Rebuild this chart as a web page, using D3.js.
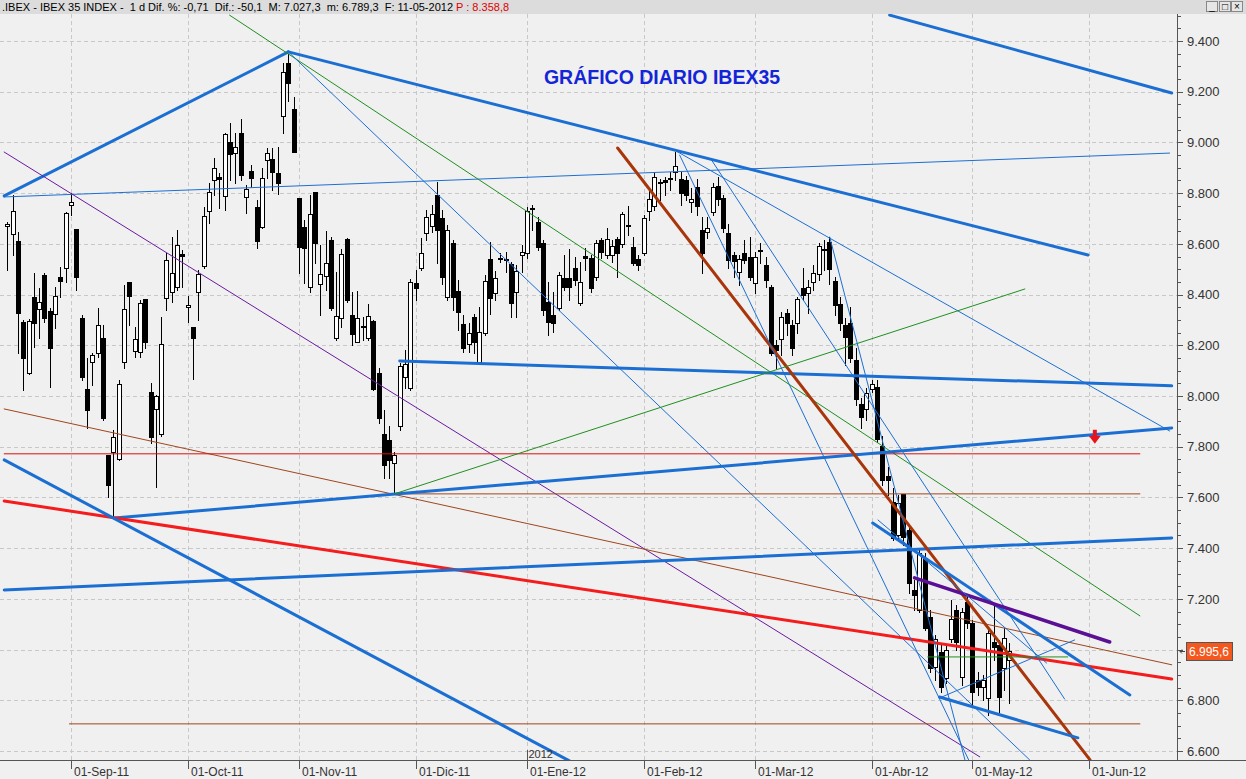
<!DOCTYPE html>
<html><head><meta charset="utf-8">
<script src="https://cdnjs.cloudflare.com/ajax/libs/d3/7.8.5/d3.min.js"></script>
<style>body{margin:0;background:#f0f0f0;overflow:hidden}svg{display:block}</style>
</head><body><svg id="c" width="1246" height="779"></svg>
<script>
// ---------- DATA ----------
const startDate = '2011-08-16';
const holidays = ['2011-12-26', '2012-04-06', '2012-04-09', '2012-05-01'];
const futureDays = 45;
const monthNames = ['Ene','Feb','Mar','Abr','May','Jun','Jul','Ago','Sep','Oct','Nov','Dic'];
const yTicks = [6600, 6800, 7000, 7200, 7400, 7600, 7800, 8000, 8200, 8400, 8600, 8800, 9000, 9200, 9400];
const title = 'GRÁFICO DIARIO IBEX35';
const headerText = '.IBEX - IBEX 35 INDEX -  1 d Dif. %: -0,71  Dif.: -50,1  M: 7.027,3  m: 6.789,3  F: 11-05-2012 ';
const headerPrice = 'P : 8.358,8';
const lastPrice = 6995.6;
const yearLabel = '2012';
const alertMarker = [205.1, 7835];
// [open, high, low, close]
const candles = [
[8671,8686,8497,8678],[8639,8793,8556,8730],[8611,8647,8170,8327],[8292,8300,8024,8150],[8091,8304,8087,8296],
[8391,8485,8193,8288],[8343,8426,8229,8371],[8477,8485,8292,8308],[8335,8347,8036,8189],[8324,8430,8268,8395],
[8469,8509,8391,8454],[8505,8726,8450,8722],[8753,8801,8714,8765],[8659,8659,8418,8469],[8308,8320,8063,8075],
[8028,8150,7874,7945],[8134,8170,8044,8162],[8170,8347,8154,8280],[8229,8280,7906,7913],[7768,7768,7602,7649],
[7779,7866,7519,7839],[7752,8063,7748,8048],[8134,8438,8111,8343],[8450,8450,8280,8395],[8178,8272,8154,8225],
[8174,8379,8154,8367],[8383,8383,8189,8213],[8016,8051,7815,7839],[7949,8004,7641,8000],[7850,8312,7842,8205],
[8387,8564,8339,8536],[8410,8627,8371,8485],[8430,8655,8418,8596],[8560,8576,8430,8552],[8351,8395,8292,8359],
[8272,8272,8067,8229],[8410,8497,8300,8481],[8513,8745,8505,8710],[8730,8840,8682,8805],[8852,8939,8793,8899],
[8864,8880,8742,8856],[8789,9037,8734,9033],[9002,9077,8852,8954],[8958,9037,8840,8982],[9037,9092,8852,8872],
[8785,8832,8722,8816],[8887,8911,8824,8860],[8745,8773,8584,8611],[8667,8899,8663,8860],[8931,8978,8860,8958],
[8935,8978,8812,8883],[8880,8982,8797,8840],[9104,9313,9037,9278],[9313,9349,9163,9234],[9132,9179,8962,8962],
[8781,8781,8485,8588],[8667,8694,8446,8584],[8430,8793,8410,8718],[8805,8805,8525,8603],[8442,8596,8320,8481],
[8473,8651,8418,8525],[8615,8627,8339,8347],[8229,8489,8221,8316],[8308,8580,8272,8560],[8619,8623,8371,8379],
[8320,8410,8201,8245],[8213,8414,8213,8308],[8272,8312,8221,8276],[8229,8363,8221,8316],[8296,8300,8024,8028],
[8091,8111,7894,7913],[7850,7945,7677,7728],[7827,7882,7677,7748],[7736,7779,7614,7768],[7882,8130,7866,8119],
[8075,8182,8032,8126],[8032,8462,8024,8450],[8446,8497,8379,8426],[8505,8623,8497,8564],[8643,8734,8615,8706],
[8671,8753,8647,8718],[8793,8844,8525,8655],[8702,8734,8442,8469],[8391,8674,8379,8655],[8603,8615,8339,8391],
[8414,8458,8260,8331],[8284,8320,8174,8189],[8205,8288,8174,8249],[8312,8324,8170,8213],[8134,8351,8134,8253],
[8249,8477,8241,8454],[8540,8607,8324,8387],[8406,8493,8379,8465],[8544,8564,8529,8546],[8540,8568,8489,8542],
[8521,8529,8312,8367],[8410,8517,8312,8493],[8556,8596,8489,8568],[8564,8745,8544,8730],[8738,8753,8655,8742],
[8686,8706,8576,8588],[8603,8615,8320,8339],[8371,8450,8241,8292],[8320,8410,8253,8288],[8347,8489,8339,8477],
[8465,8556,8418,8430],[8465,8580,8379,8430],[8505,8548,8438,8458],[8367,8529,8359,8450],[8552,8584,8497,8544],
[8544,8556,8410,8426],[8469,8615,8458,8603],[8615,8623,8544,8568],[8556,8663,8544,8619],[8556,8615,8529,8592],
[8619,8627,8469,8564],[8600,8726,8588,8718],[8671,8749,8635,8673],[8588,8627,8517,8525],[8540,8556,8497,8517],
[8564,8714,8556,8702],[8730,8812,8694,8777],[8749,8883,8734,8864],[8840,8856,8773,8842],[8852,8864,8793,8844],
[8856,8883,8812,8860],[8883,8962,8852,8907],[8856,8883,8753,8801],[8852,8868,8773,8793],[8765,8820,8726,8777],
[8824,8856,8714,8749],[8655,8706,8485,8564],[8647,8706,8623,8663],[8726,8840,8714,8824],[8828,8864,8753,8777],
[8781,8793,8647,8663],[8643,8678,8505,8536],[8556,8568,8469,8533],[8489,8556,8438,8540],[8564,8615,8525,8536],
[8548,8627,8458,8469],[8446,8568,8406,8548],[8572,8603,8525,8574],[8517,8548,8430,8458],[8430,8438,8162,8170],
[8201,8221,8111,8182],[8225,8331,8162,8312],[8327,8343,8241,8288],[8280,8300,8162,8189],[8288,8391,8249,8383],
[8426,8505,8379,8399],[8406,8458,8327,8430],[8450,8517,8418,8485],[8481,8603,8458,8592],[8580,8615,8497,8576],
[8607,8627,8442,8501],[8454,8469,8320,8359],[8363,8391,8260,8288],[8280,8308,8122,8233],[8288,8351,8134,8150],
[8142,8189,7965,7988],[7969,7992,7874,7917],[7949,8032,7906,8012],[8028,8063,8016,8048],[8036,8063,7819,7831],
[7803,7843,7649,7669],[7685,7720,7610,7669],[7582,7637,7432,7440],[7452,7610,7432,7578],[7614,7614,7413,7444],
[7472,7492,7223,7263],[7235,7275,7156,7215],[7156,7393,7148,7381],[7361,7381,7077,7085],[7129,7156,6912,6928],
[6932,7058,6880,7042],[6991,7018,6833,6853],[6888,7018,6869,6999],[7042,7196,7030,7121],[7156,7176,6999,7030],
[6892,7164,6861,7148],[7188,7215,7085,7105],[7105,7117,6782,6833],[6880,6912,6821,6853],[6853,6900,6801,6880],
[6809,7085,6742,7066],[7030,7176,6959,7010],[7018,7038,6754,6813],[6928,7085,6841,7045.7],[6960,7027.3,6789.3,6995.6]
];
// trend lines: [startIndex, startValue, endIndex, endValue]
const trendLines = [
[-0.6,8789,53.0,9357],[53.0,9357,203.8,8556],[-0.6,8785,219.2,8958],[166.4,9502,219.6,9195],
[41.9,9502,213.6,7133],[53.0,9357,192.8,6565],[-0.6,8962,183.4,6577],[-0.6,7949,219.6,6940],
[-0.6,7772,213.6,7772],[73.0,7614,213.6,7614],[11.7,6707,213.6,6707],[20.2,7519,219.6,7874],
[-0.6,7586,219.6,6884],[-0.6,7748,106.0,6561],[-0.6,7235,219.6,7440],[74.0,8138,219.6,8040],
[125.8,8970,219.2,7862],[115.1,8978,204.2,6565],[73.0,7614,191.9,8422],[126.8,8950,181.3,6565],
[132.8,8931,199.4,6805],[155.1,8627,180.6,6565],[163.2,7499,211.7,6821],[171.1,7283,207.9,7030],
[173.6,6971,200.0,6971],[175.8,6809,201.3,7038],[175.8,6813,201.9,6652],[164.2,7511,196.0,6947]
];
const trendKinds = [
'blueThick','blueThick','blueThin','blueThick',
'greenThin','blueThin','purpleThin','brownThin',
'redThin','brownThin','brownThin','blueThick',
'redThick','blueThick','blueThick','blueThick',
'blueThin','brownThick','greenThin','blueThin',
'blueThin','blueThin','blueThick','purpleThick',
'greenThin','blueThin','blueThick','blueThin'
];

// ---------- STYLE ----------
const kindStyle = {
  blueThick:{c:'#1c6fd2',w:3}, blueThin:{c:'#1c6fd2',w:1},
  redThick:{c:'#f41c1c',w:3}, redThin:{c:'#d81010',w:1},
  brownThick:{c:'#a8360a',w:3}, brownThin:{c:'#a0451c',w:1},
  purpleThick:{c:'#5a0f94',w:3.5}, purpleThin:{c:'#6a1aa0',w:1},
  greenThin:{c:'#1f8f1f',w:1}
};
const W = 1246, H = 779;
const plot = {left:0, right:1177, top:14, bottom:760};
const font = '"Liberation Sans", Arial, sans-serif';

// trading calendar
const fmt = d3.utcFormat('%Y-%m-%d');
const dates = [];
{
  let d = new Date(startDate + 'T00:00:00Z');
  while (dates.length < candles.length + futureDays) {
    const wd = d.getUTCDay();
    if (wd !== 0 && wd !== 6 && !holidays.includes(fmt(d))) dates.push(new Date(d));
    d = d3.utcDay.offset(d, 1);
  }
}
const x = d3.scaleLinear().domain([12, 204]).range([71, 1089]);
const y = d3.scaleLinear().domain([6600, 9400]).range([751, 41]);

const svg = d3.select('#c');
svg.append('rect').attr('width', W).attr('height', H).attr('fill', '#f0f0f0');
svg.append('defs').append('clipPath').attr('id', 'clip').append('rect')
  .attr('x', plot.left).attr('y', plot.top).attr('width', plot.right - plot.left).attr('height', plot.bottom - plot.top);

// month ticks
const monthTicks = [];
dates.forEach((d, i) => {
  if (i > 0 && d.getUTCMonth() !== dates[i - 1].getUTCMonth()) {
    const px = x(i);
    if (px < plot.right - 10) monthTicks.push({i, label: '01-' + monthNames[d.getUTCMonth()] + '-' + String(d.getUTCFullYear()).slice(2), year: d.getUTCMonth() === 0 ? d.getUTCFullYear() : null});
  }
});

// grid
const grid = svg.append('g').attr('stroke', '#c8c8c8').attr('stroke-width', 1).attr('stroke-dasharray', '4,3');
grid.selectAll('line.h').data(yTicks).join('line')
  .attr('x1', plot.left).attr('x2', plot.right)
  .attr('y1', d => Math.round(y(d)) + 0.5).attr('y2', d => Math.round(y(d)) + 0.5);
grid.selectAll('line.v').data(monthTicks).join('line')
  .attr('y1', plot.top).attr('y2', plot.bottom)
  .attr('x1', d => Math.round(x(d.i)) + 0.5).attr('x2', d => Math.round(x(d.i)) + 0.5);

// candles
const cg = svg.append('g').attr('clip-path', 'url(#clip)');
const cs = cg.selectAll('g').data(candles).join('g');
cs.append('line')
  .attr('x1', (d, i) => Math.round(x(i)) + 0.5).attr('x2', (d, i) => Math.round(x(i)) + 0.5)
  .attr('y1', d => Math.round(y(d[1]))).attr('y2', d => Math.round(y(d[2])) + 1)
  .attr('stroke', '#000').attr('stroke-width', 1);
cs.append('rect')
  .attr('x', (d, i) => d[3] >= d[0] ? Math.round(x(i)) - 1.5 : Math.round(x(i)) - 2)
  .attr('width', d => d[3] >= d[0] ? 4 : 5)
  .attr('y', d => {
    const t = Math.round(y(Math.max(d[0], d[3])));
    return d[3] >= d[0] ? t + 0.5 : t;
  })
  .attr('height', d => {
    const h = Math.max(1, Math.round(y(Math.min(d[0], d[3]))) - Math.round(y(Math.max(d[0], d[3]))));
    return d[3] >= d[0] ? Math.max(0.01, h) : h + 1;
  })
  .attr('fill', d => d[3] >= d[0] ? '#ffffff' : '#000000')
  .attr('stroke', d => d[3] >= d[0] ? '#000' : 'none')
  .attr('stroke-width', 1);

// trend lines
const lg = svg.append('g').attr('clip-path', 'url(#clip)');
lg.selectAll('line').data(trendLines).join('line')
  .attr('x1', d => x(d[0])).attr('y1', d => y(d[1]))
  .attr('x2', d => x(d[2])).attr('y2', d => y(d[3]))
  .attr('stroke', (d, i) => kindStyle[trendKinds[i]].c)
  .attr('stroke-width', (d, i) => kindStyle[trendKinds[i]].w)
  .attr('stroke-linecap', 'round');

// alert arrow
{
  const ax = x(alertMarker[0]), ay = y(alertMarker[1]);
  svg.append('path')
    .attr('d', `M${ax - 2},${ay - 8} L${ax + 2},${ay - 8} L${ax + 2},${ay - 2} L${ax + 6},${ay - 2} L${ax},${ay + 6} L${ax - 6},${ay - 2} L${ax - 2},${ay - 2} Z`)
    .attr('fill', '#e8141c');
}

// title
svg.append('text').attr('x', 662).attr('y', 84).attr('text-anchor', 'middle')
  .attr('font-family', font).attr('font-size', 19.5).attr('font-weight', 'bold')
  .attr('fill', '#1425d8').text(title);

// right axis
const priceY = y(lastPrice);
const ra = svg.append('g');
ra.append('line').attr('x1', plot.right + 0.5).attr('x2', plot.right + 0.5).attr('y1', plot.top).attr('y2', plot.bottom).attr('stroke', '#555');
const minorTicks = d3.range(6550, 9551, 50).filter(v => y(v) > plot.top && y(v) < plot.bottom);
ra.selectAll('line.m').data(minorTicks).join('line')
  .attr('x1', plot.right).attr('x2', d => plot.right + (d % 200 === 0 ? 6 : 4))
  .attr('y1', d => Math.round(y(d)) + 0.5).attr('y2', d => Math.round(y(d)) + 0.5)
  .attr('stroke', '#555');
ra.selectAll('text').data(yTicks.filter(v => Math.abs(y(v) - priceY) > 12)).join('text')
  .attr('x', plot.right + 10).attr('y', d => y(d)).attr('dy', '0.36em')
  .attr('font-family', font).attr('font-size', 13).attr('fill', '#333')
  .text(d => d3.format(',')(d).replace(/,/g, '.'));

// bottom axis
const ba = svg.append('g');
ba.append('line').attr('x1', 0).attr('x2', W).attr('y1', plot.bottom + 0.5).attr('y2', plot.bottom + 0.5).attr('stroke', '#555');
ba.selectAll('line.t').data(monthTicks).join('line')
  .attr('x1', d => Math.round(x(d.i)) + 0.5).attr('x2', d => Math.round(x(d.i)) + 0.5)
  .attr('y1', plot.bottom).attr('y2', plot.bottom + 9).attr('stroke', '#555');
ba.selectAll('text').data(monthTicks).join('text')
  .attr('x', d => Math.round(x(d.i)) + 3).attr('y', 776)
  .attr('font-family', font).attr('font-size', 12).attr('fill', '#333')
  .text(d => d.label);
monthTicks.filter(d => d.year).forEach(d => {
  const px = Math.round(x(d.i)) + 0.5;
  ba.append('line').attr('x1', px).attr('x2', px).attr('y1', plot.bottom - 10).attr('y2', plot.bottom).attr('stroke', '#555');
  ba.append('text').attr('x', px + 1).attr('y', plot.bottom - 2)
    .attr('font-family', font).attr('font-size', 11).attr('fill', '#333').text(yearLabel);
});

// last price label
{
  const py = Math.round(priceY);
  svg.append('path').attr('d', `M${plot.right + 3},${py + 0.5} L${plot.right + 8},${py + 0.5} M${plot.right + 3},${py + 0.5} L${plot.right + 5},${py - 1.5} M${plot.right + 3},${py + 0.5} L${plot.right + 5},${py + 2.5}`)
    .attr('stroke', '#444').attr('fill', 'none');
  svg.append('rect').attr('x', plot.right + 9.5).attr('y', py - 8.5).attr('width', 46).attr('height', 18)
    .attr('fill', '#f4581e').attr('stroke', '#555');
  svg.append('text').attr('x', plot.right + 12).attr('y', py + 5)
    .attr('font-family', font).attr('font-size', 12).attr('fill', '#fff')
    .text(d3.format('.1f')(lastPrice).replace('.', ',').replace(/^(\d)(\d{3})/, '$1.$2'));
}

// header
svg.append('rect').attr('x', 0).attr('y', 0).attr('width', W).attr('height', plot.top).attr('fill', '#dcdcdc');
const ht = svg.append('text').attr('x', 2).attr('y', 11).attr('font-family', font).attr('font-size', 11)
  .attr('fill', '#000').attr('xml:space', 'preserve').style('white-space', 'pre');
ht.append('tspan').text(headerText);
ht.append('tspan').attr('fill', '#e00000').text(headerPrice);
// window buttons
const btn = svg.append('g').attr('font-family', font).attr('font-size', 10);
[['_', 1206], ['□', 1219], ['×', 1231]].forEach(([g, bx]) => {
  btn.append('rect').attr('x', bx + 0.5).attr('y', 1.5).attr('width', 11).attr('height', 10).attr('fill', '#e6e6e6').attr('stroke', '#888');
  btn.append('text').attr('x', bx + 6).attr('y', 10).attr('text-anchor', 'middle').attr('fill', '#000').text(g);
});
</script></body></html>
